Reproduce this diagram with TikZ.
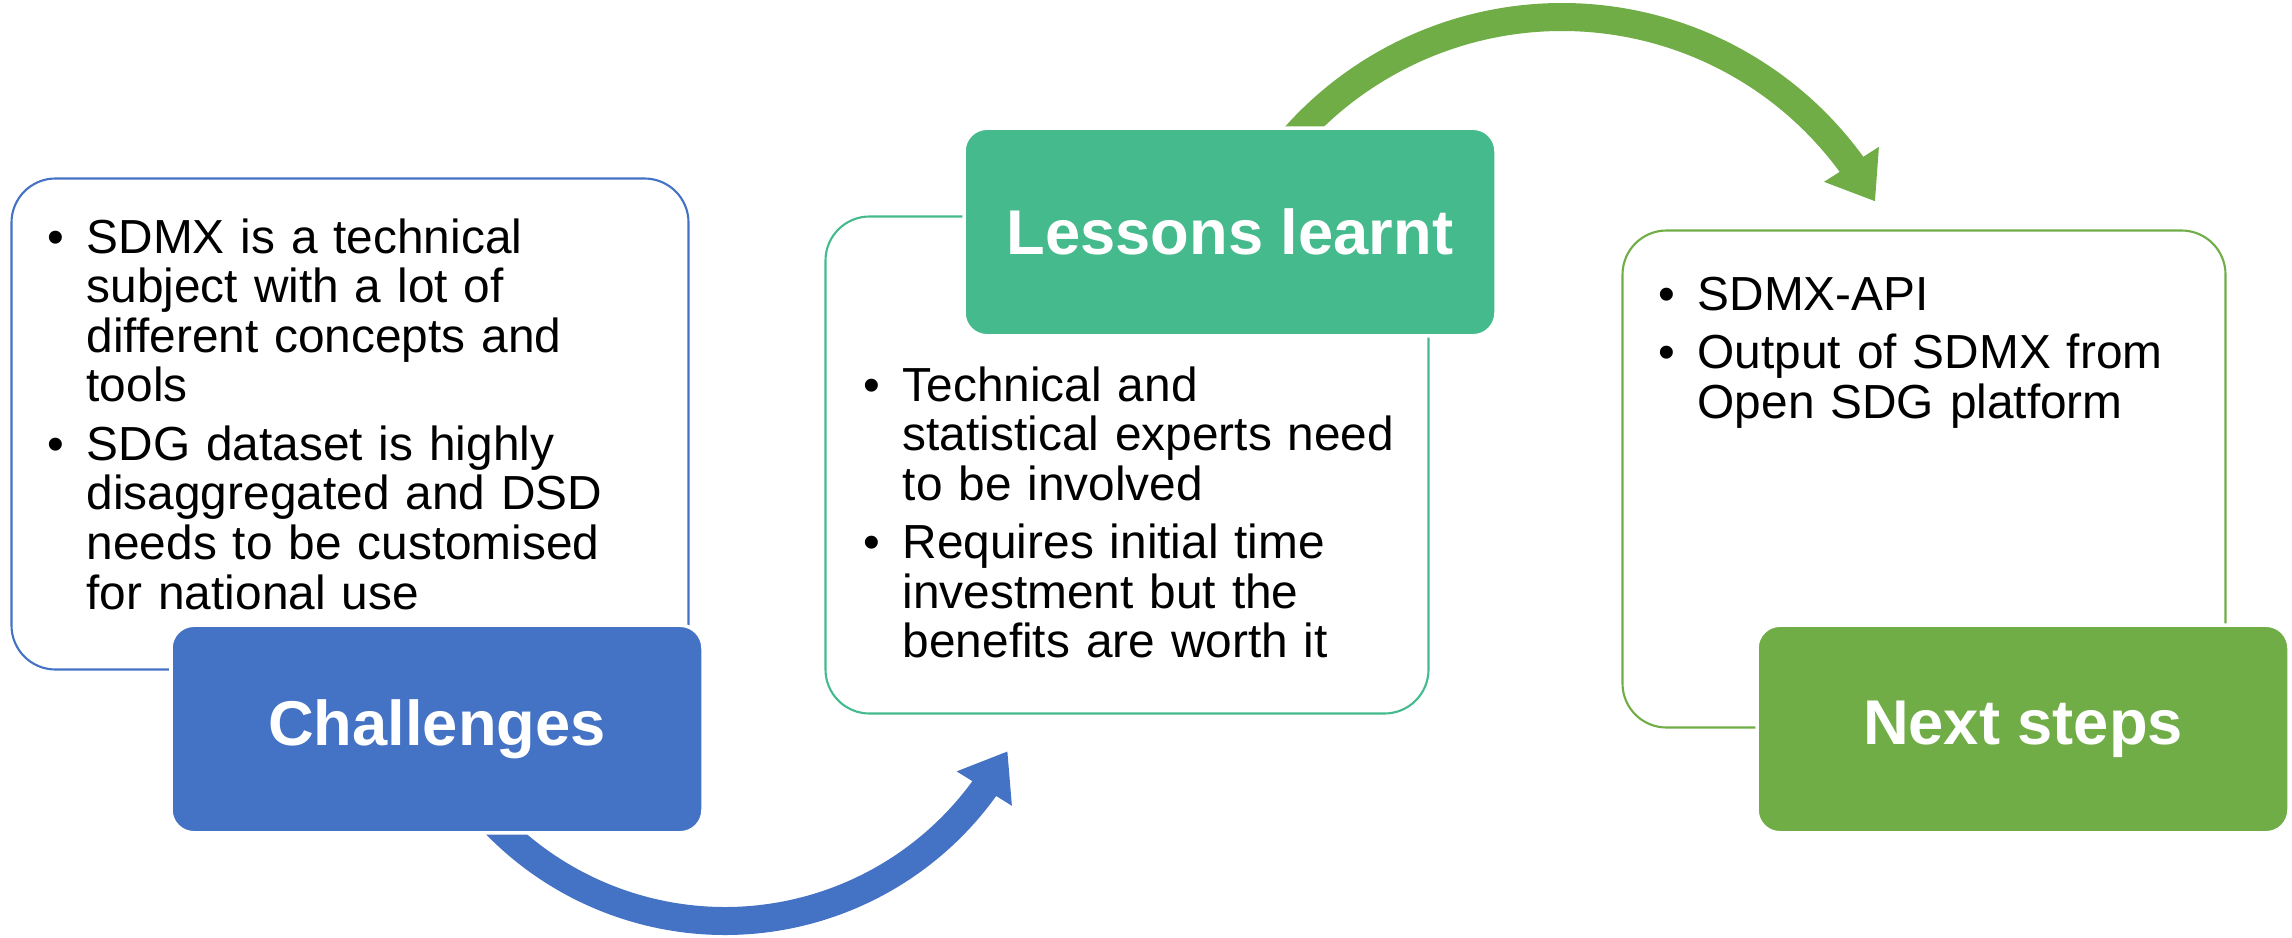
\documentclass[tikz,border=0pt]{standalone}
\usepackage{fontspec}
\setmainfont{Liberation Sans}
\usetikzlibrary{arrows.meta,bending,positioning}

\definecolor{chalblue}{HTML}{4472C4}
\definecolor{lessteal}{HTML}{44BA8D}
\definecolor{nextgreen}{HTML}{70AD47}

% one bullet point with hanging indent
\newcommand{\bitem}[1]{{\hangindent=0.39cm\hangafter=1\noindent\makebox[0.39cm][l]{\textbullet}#1\par}}

\begin{document}
\begin{tikzpicture}
\tikzstyle{framebox}=[rectangle,rounded corners=0.44cm,fill=white,line width=0.6pt,minimum width=6.03cm,minimum height=4.97cm]
\tikzstyle{headbox}=[rectangle,rounded corners=0.23cm,draw=white,line width=1pt,minimum width=5.32cm,minimum height=2.076cm,text=white,font=\fontsize{18}{21.6}\selectfont\bfseries]
\tikzstyle{bodytext}=[anchor=base west,inner sep=0pt,align=left,font={\fontsize{13.6}{14.1}\selectfont\parskip=2.6pt}]
\tikzstyle{flowarrow}=[line width=0.28cm,-{Triangle[length=4.4mm,width=6.2mm]}]

\useasboundingbox (0,0) rectangle (22.92,9.37);

% outlined boxes
\node[framebox,draw=chalblue,minimum width=6.77cm,minimum height=4.91cm] (CB) at (3.50,5.13) {};
\node[framebox,draw=lessteal]   (LB) at (11.27,4.72) {};
\node[framebox,draw=nextgreen]  (NB) at (19.24,4.58) {};

% curved arrows, behind the headers
\coordinate (B1) at (7.25,3.36);
\coordinate (G1) at (15.62,5.62);
\draw[flowarrow,chalblue] ([shift={(222:3.2)}]B1) arc[start angle=222,end angle=332,radius=3.2];
\draw[flowarrow,nextgreen] ([shift={(140:3.58)}]G1) arc[start angle=140,end angle=29,radius=3.58];

% headers
\node[headbox,fill=chalblue]  (C) at (4.37,2.08) {Challenges};
\node[headbox,fill=lessteal]  (L) [on grid,above right=4.97cm and 7.93cm of C] {Lessons learnt};
\node[headbox,fill=nextgreen] (N) [on grid,below right=4.97cm and 7.93cm of L] {Next steps};

% bullet texts
\node[bodytext,text width=6cm] (CT) at (0.47,6.84) {%
\bitem{SDMX is a technical\newline subject with a lot of\newline different concepts and\newline tools}%
\bitem{SDG dataset is highly\newline disaggregated and DSD\newline needs to be customised\newline for national use}};
\node[bodytext,text width=5.8cm] (LT) at (8.63,5.36) {%
\bitem{Technical and\newline statistical experts need\newline to be involved}%
\bitem{Requires initial time\newline investment but the\newline benefits are worth it}};
\node[bodytext,text width=5.5cm] (NT) at (16.58,6.27) {%
\bitem{SDMX-API}%
\bitem{Output of SDMX from\newline Open SDG platform}};
\end{tikzpicture}
\end{document}
